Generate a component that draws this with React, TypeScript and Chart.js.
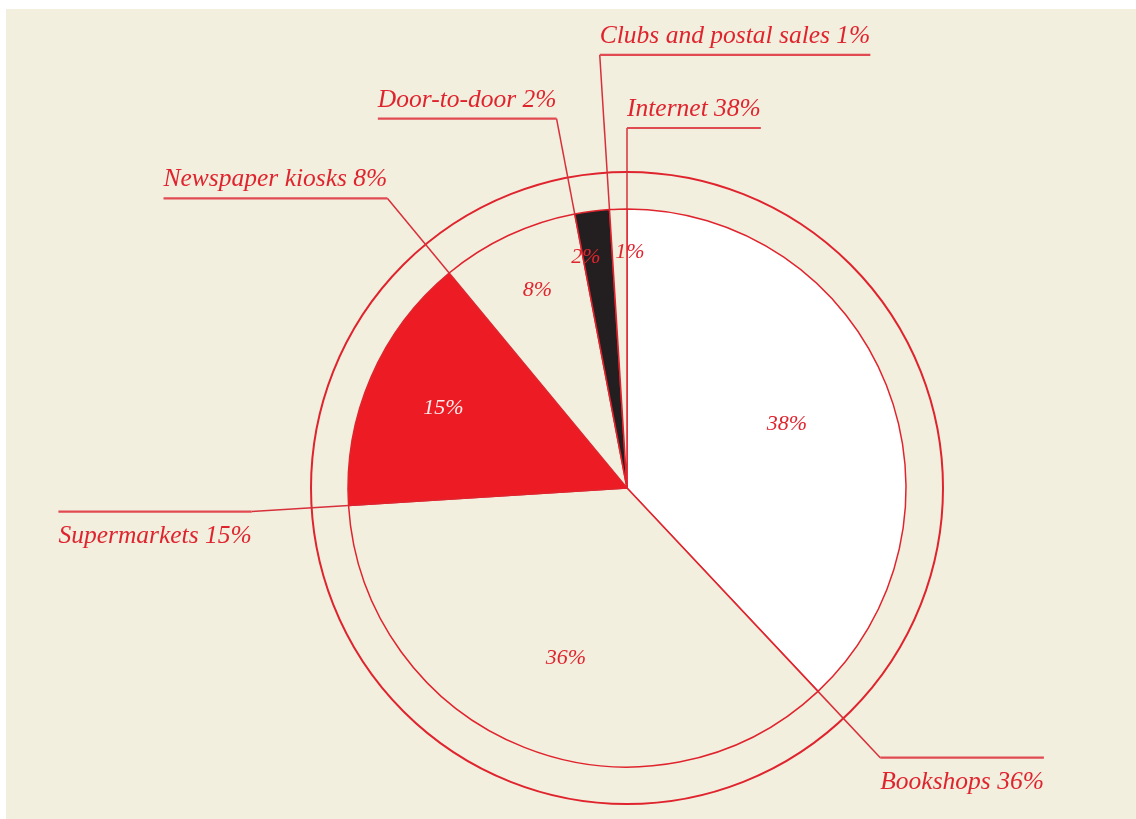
import React, { useEffect, useRef } from "react";
import { Chart, registerables } from "chart.js";

Chart.register(...registerables);

// ---- data ----
const categories = [
  "Internet",
  "Bookshops",
  "Supermarkets",
  "Newspaper kiosks",
  "Door-to-door",
  "Clubs and postal sales",
];
const shares = [38, 36, 15, 8, 2, 1];

// ---- styles / layout ----
const BG = "#f2efdf";
const RED = "#e0242e";
const sliceFill = ["#ffffff", BG, "#ed1c24", BG, "#231f20", BG];
const leaderReach = [360, 370, 376, 376, 376, 434];
const leaderSide = [1, 1, -1, -1, -1, 1];
const labelBelow = [false, true, true, false, false, false];
const valueRadius = [172, 181, 200, 217, 234, 236];
const valueAngleShift = [0, -1.9, 0, 0.8, -2.9, 2.5];
const valueColor = [RED, RED, "#fdeeee", RED, RED, RED];

const LABEL_FONT = 'italic 25.5px "Liberation Serif"';
const VALUE_FONT = 'italic 22px "Liberation Serif"';

const decorPlugin = {
  id: "decor",
  beforeDraw(chart: any) {
    const ctx = chart.ctx;
    const w = chart.width;
    const h = chart.height;
    ctx.save();
    ctx.fillStyle = "#ffffff";
    ctx.fillRect(0, 0, w, h);
    ctx.fillStyle = BG;
    ctx.fillRect(6, 9, w - 6, h - 9);
    ctx.restore();
  },
  afterDatasetsDraw(chart: any) {
    const ctx = chart.ctx;
    const meta = chart.getDatasetMeta(0);
    const first = meta.data[0];
    const { x, y, outerRadius } = first.getProps(["x", "y", "outerRadius"], true);
    ctx.save();

    // outer ring
    ctx.beginPath();
    ctx.arc(x, y, outerRadius + 37, 0, Math.PI * 2);
    ctx.strokeStyle = RED;
    ctx.lineWidth = 2;
    ctx.stroke();

    // leaders + category labels
    meta.data.forEach((arc: any, i: number) => {
      const { startAngle, endAngle } = arc.getProps(["startAngle", "endAngle"], true);
      const cos = Math.cos(startAngle);
      const sin = Math.sin(startAngle);
      const x0 = x + cos * outerRadius;
      const y0 = y + sin * outerRadius;
      const x1 = x + cos * leaderReach[i];
      const y1 = y + sin * leaderReach[i];
      ctx.beginPath();
      ctx.moveTo(x0, y0);
      ctx.lineTo(x1, y1);
      ctx.strokeStyle = "#d8303a";
      ctx.lineWidth = 1.5;
      ctx.stroke();

      const text = `${categories[i]} ${shares[i]}%`;
      ctx.font = LABEL_FONT;
      const tw = ctx.measureText(text).width;
      const left = leaderSide[i] > 0 ? x1 : x1 - tw;
      ctx.beginPath();
      ctx.moveTo(left, y1);
      ctx.lineTo(left + tw, y1);
      ctx.strokeStyle = "#e24a52";
      ctx.lineWidth = 2.2;
      ctx.stroke();

      ctx.fillStyle = RED;
      ctx.textAlign = "left";
      ctx.textBaseline = "alphabetic";
      ctx.fillText(text, left, labelBelow[i] ? y1 + 31 : y1 - 12);

      // value labels inside
      const mid = (startAngle + endAngle) / 2 + (valueAngleShift[i] * Math.PI) / 180;
      const vx = x + Math.cos(mid) * valueRadius[i];
      const vy = y + Math.sin(mid) * valueRadius[i];
      ctx.font = VALUE_FONT;
      ctx.fillStyle = valueColor[i];
      ctx.textAlign = "center";
      ctx.textBaseline = "middle";
      ctx.fillText(`${shares[i]}%`, vx, vy);
    });
    ctx.restore();
  },
};

export default function App() {
  const ref = useRef<HTMLCanvasElement>(null);
  useEffect(() => {
    if (!ref.current) return;
    const chart = new Chart(ref.current, {
      type: "pie",
      data: {
        labels: categories,
        datasets: [
          {
            data: shares,
            backgroundColor: sliceFill,
            borderColor: RED,
            borderWidth: 1.5,
          },
        ],
      },
      options: {
        responsive: false,
        devicePixelRatio: 1,
        animation: false,
        radius: 279,
        layout: { padding: { left: 348, right: 230, top: 209, bottom: 52 } },
        plugins: {
          legend: { display: false },
          tooltip: { enabled: false },
        },
      } as any,
      plugins: [decorPlugin],
    });
    return () => chart.destroy();
  }, []);
  return (
    <div style={{ position: "fixed", left: 0, top: 0, width: 1136, height: 819, background: "#fff" }}>
      <canvas ref={ref} width={1136} height={819} style={{ display: "block", width: 1136, height: 819 }} />
    </div>
  );
}
